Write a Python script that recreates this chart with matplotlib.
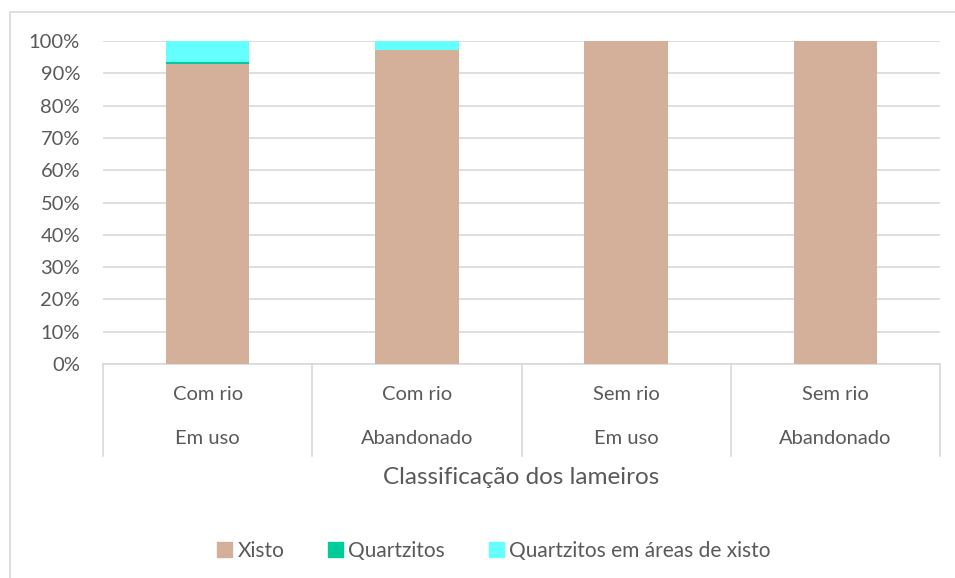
import matplotlib
matplotlib.use("Agg")
import matplotlib.pyplot as plt
import matplotlib.transforms as mtransforms
from matplotlib.patches import Rectangle
from matplotlib.lines import Line2D
import numpy as np

plt.rcParams['font.family'] = ['Lato', 'DejaVu Sans']

grp_top = ["Com rio", "Com rio", "Sem rio", "Sem rio"]
grp_bottom = ["Em uso", "Abandonado", "Em uso", "Abandonado"]
series_names = ["Xisto", "Quartzitos", "Quartzitos em áreas de xisto"]
xisto = [93.0, 97.3, 100.0, 100.0]
quartzitos = [0.6, 0.0, 0.0, 0.0]
quartz_areas = [6.4, 2.7, 0.0, 0.0]
colors = ["#D4B09A", "#00CC99", "#66FFFF"]
yticks = [0, 10, 20, 30, 40, 50, 60, 70, 80, 90, 100]
xlabel = "Classificação dos lameiros"

txt = "#595959"
fig = plt.figure(figsize=(9.55, 5.78), dpi=100)
ax = fig.add_axes([103/955, 1-364/578, (940-103)/955, (364-41)/578])

x = np.arange(len(xisto))
bottom = np.zeros(len(x))
for vals, c, name in zip([xisto, quartzitos, quartz_areas], colors, series_names):
    ax.bar(x, vals, 0.4, bottom=bottom, color=c, label=name, zorder=3)
    bottom += np.array(vals)

ax.set_xlim(-0.5, len(x) - 0.5)
ax.set_ylim(0, 100)
ax.set_yticks(yticks)
ax.set_yticklabels([f"{v}%" for v in yticks], color=txt, fontsize=14.5)
ax.tick_params(axis='y', length=0, pad=16.5)
ax.set_xticks([])
ax.yaxis.grid(True, color="#D9D9D9", linewidth=1.2, zorder=0)
for s in ["left", "right", "top"]:
    ax.spines[s].set_visible(False)
ax.spines["bottom"].set_color("#D9D9D9")
ax.spines["bottom"].set_linewidth(1.2)

trans = mtransforms.blended_transform_factory(ax.transData, ax.transAxes)
for b in np.arange(-0.5, len(x) + 0.5, 1.0):
    ax.add_line(Line2D([b, b], [0, -(456-364)/323], transform=trans, color="#D9D9D9",
                       linewidth=1.2, clip_on=False))
for i in x:
    ax.text(i, -(395-364)/323, grp_top[i], transform=trans, ha='center', va='center',
            color=txt, fontsize=14.5)
    ax.text(i, -(438-364)/323, grp_bottom[i], transform=trans, ha='center', va='center',
            color=txt, fontsize=14.5)
ax.text(0.5, -(478-364)/323, xlabel, transform=ax.transAxes, ha='center', va='center',
        color=txt, fontsize=17.5)

handles = [Rectangle((0, 0), 1, 1, color=c) for c in colors]
leg = fig.legend(handles, series_names, loc='center', bbox_to_anchor=(494/955, 1-551/578),
                 ncol=3, frameon=False, fontsize=15, handlelength=0.72, handleheight=0.72,
                 handletextpad=0.25, columnspacing=2.1, borderpad=0, borderaxespad=0)
for t in leg.get_texts():
    t.set_color(txt)

fig.add_artist(Rectangle((9.5/955, -0.1), 1.2, 1-11.5/578+0.1, transform=fig.transFigure,
                         fill=False, edgecolor="#D9D9D9", linewidth=1.2))

fig.savefig("out.png", dpi=100)
